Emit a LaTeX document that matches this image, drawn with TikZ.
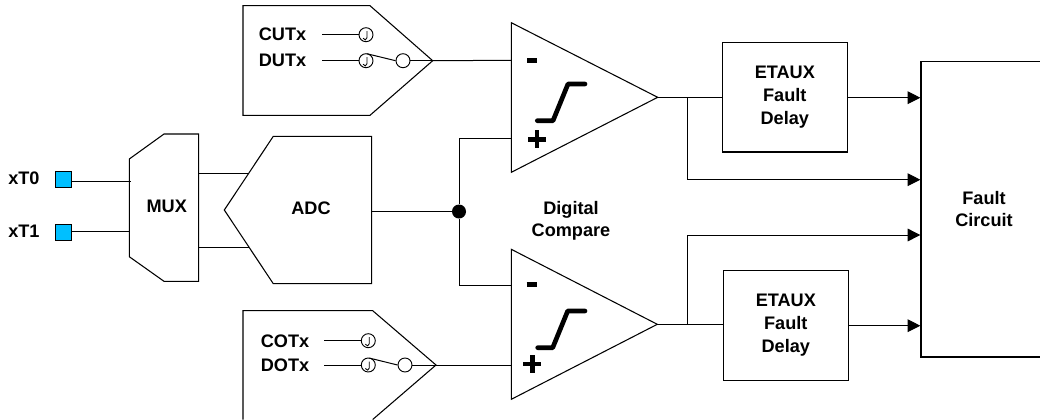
\documentclass[tikz,border=0pt]{standalone}
\usepackage{fontspec}
\setmainfont{Liberation Sans}
\usetikzlibrary{arrows.meta,calc}
\definecolor{padblue}{RGB}{0,191,255}
\tikzset{
  wire/.style={draw=black,line width=0.75pt},
  arrowwire/.style={wire,-{Triangle[length=9.5pt,width=9.5pt]},shorten >=0.5pt},
  block/.style={draw=black,line width=0.8pt,fill=white},
  blockbox/.style={draw=black,line width=0.8pt,fill=white,inner sep=0pt,minimum width=93.75pt,minimum height=82pt,align=center,font=\bfseries\fontsize{13.6}{17.25}\selectfont},
  lbl/.style={inner sep=0pt,align=center,font=\bfseries\fontsize{13.6}{16.5}\selectfont},
  pad/.style={draw=black,line width=0.7pt,fill=padblue,minimum size=12pt,inner sep=0pt},
  ring/.style={circle,draw=black,line width=0.7pt,fill=white,minimum size=10.5pt,inner sep=0pt},
  sym/.style={line width=3.5pt,black},
}
\begin{document}
\begin{tikzpicture}[x=0.75pt,y=-0.75pt]
\useasboundingbox (0,0) rectangle (1040,419);
\clip (0,0) rectangle (1040,419);
% top selector
\coordinate (tsa) at (243,5.7); \coordinate (tsb) at (370,5.7); \coordinate (tst) at (432.7,60.7);
\coordinate (tsc) at (370,115.3); \coordinate (tsd) at (243,115.3);
\draw[block] (tsa) -- (tsb) -- (tst) -- (tsc) -- (tsd) -- cycle;
% bottom selector
\coordinate (bsa) at (243,310.7); \coordinate (bsb) at (372.7,310.7); \coordinate (bst) at (436,365);
\coordinate (bsc) at (372.7,419.5); \coordinate (bsd) at (243,419.5);
\draw[block] (bsd) -- (bsa) -- (bsb) -- (bst) -- (bsc);
% comparators
\coordinate (c1a) at (511.3,22.7); \coordinate (c1o) at (657.7,97.3); \coordinate (c1b) at (511.3,172.3);
\coordinate (c1m) at (511.3,60.3); \coordinate (c1p) at (511.3,138.3);
\draw[block] (c1a) -- (c1o) -- (c1b) -- cycle;
\coordinate (c2a) at (511.3,249.3); \coordinate (c2o) at (657.3,324.3); \coordinate (c2b) at (511.3,399.3);
\coordinate (c2m) at (511.3,285); \coordinate (c2p) at (511.3,365);
\draw[block] (c2a) -- (c2o) -- (c2b) -- cycle;
% comparator symbols
\draw[sym,line width=3.6pt] (527,60.3) -- (537,60.3);
\draw[sym] (528,139.3) -- (546,139.3); \draw[sym] (537,130.3) -- (537,148.3);
\draw[sym,line cap=round,line join=round] (537.3,120.7) -- (553,120.7) -- (568,84) -- (585,84);
\draw[sym,line width=3.6pt] (526.7,284.3) -- (536.7,284.3);
\draw[sym] (523.3,364) -- (541.3,364); \draw[sym] (532.3,355) -- (532.3,373);
\draw[sym,line cap=round,line join=round] (537.7,347.7) -- (552.7,347.7) -- (567.7,311) -- (585,311);
% mux
\coordinate (ma) at (129.3,159); \coordinate (mb) at (164,134); \coordinate (mc) at (198.7,134);
\coordinate (md) at (198.7,281.3); \coordinate (me) at (164,281.3); \coordinate (mf) at (129.3,256.7);
\draw[block] (ma) -- (mb) -- (mc) -- (md) -- (me) -- (mf) -- cycle;
\node[lbl] (muxl) at (166.7,206.7) {MUX};
% adc
\coordinate (aa) at (273.3,136.3); \coordinate (ab) at (371.7,136.3); \coordinate (ac) at (371.7,283.7);
\coordinate (ad) at (273.3,283.7); \coordinate (ae) at (224.3,210);
\draw[block] (aa) -- (ab) -- (ac) -- (ad) -- (ae) -- cycle;
\node[lbl] (adcl) at (311,208) {ADC};
% mux to adc
\coordinate (mo1) at (198.7,173); \coordinate (ai1) at (249.3,173);
\coordinate (mo2) at (198.7,247); \coordinate (ai2) at (249.3,247);
\draw[wire] (mo1) -- (ai1); \draw[wire] (mo2) -- (ai2);
% pads
\node[pad] (p0) at (63,179) {}; \node[pad] (p1) at (63,232) {};
\node[lbl,anchor=west] (x0) at (8,178) {xT0};
\node[lbl,anchor=west] (x1) at (8,231) {xT1};
\coordinate (mi0) at (130.7,181); \coordinate (mi1) at (130,231.7);
\draw[wire] (p0.east |- mi0) -- (mi0); \draw[wire] (p1.east |- mi1) -- (mi1);
% adc output and dot
\node[circle,fill=black,minimum size=10.5pt,inner sep=0pt] (dot) at (459,211.5) {};
\coordinate (ao) at (371.7,211.5);
\draw[wire] (ao) -- (dot);
\coordinate (up) at (459,138.3); \coordinate (dn) at (459,285);
\draw[wire] (dot) -- (up) -- (c1p);
\draw[wire] (dot) -- (dn) -- (c2m);
% selector contents, top
\node[lbl] (cut) at (282.5,34.5) {CUTx};
\node[lbl] (dut) at (282.5,60) {DUTx};
\node[ring] (r1) at (366,34.7) {}; \node[ring] (r2) at (366,60.7) {}; \node[ring] (r3) at (403,60.7) {};
\coordinate (l1) at (322,34.7); \coordinate (l2) at (322,60.7);
\draw[wire] (l1) -- (r1.west); \draw[wire] (l2) -- (r2.west);
\draw[wire] (r3.east) -- (tst);
\draw[wire] (r2.north) ++(1,0.5) coordinate (sw1) -- (r3.west);
\draw[wire] (tst) -- (c1m);
% selector contents, bottom
\node[lbl] (cot) at (285,340.8) {COTx};
\node[lbl] (dot2) at (285,365) {DOTx};
\node[ring] (r4) at (368.3,340.7) {}; \node[ring] (r5) at (368.3,365) {}; \node[ring] (r6) at (405,365) {};
\coordinate (l4) at (324,340.7); \coordinate (l5) at (324,365);
\draw[wire] (l4) -- (r4.west); \draw[wire] (l5) -- (r5.west);
\draw[wire] (r6.east) -- (bst);
\draw[wire] (r5.north) ++(1,0.5) coordinate (sw2) -- (r6.west);
\draw[wire] (bst) -- (c2p);
% curls
\foreach \c in {r1,r2,r4,r5}{
  \draw[black,line width=0.65pt] ($(\c)+(1,-3.5)$) -- ($(\c)+(1,3)$) .. controls ($(\c)+(1,5.5)$) and ($(\c)+(-2,6)$) .. ($(\c)+(-3,3.5)$);
}
% delay boxes
\node[blockbox] (d1) at (784.8,97.3) {ETAUX\\Fault\\Delay};
\node[blockbox] (d2) at (785.8,325.6) {ETAUX\\Fault\\Delay};
% fault circuit (runs off the right edge)
\coordinate (fa) at (1041,61.7); \coordinate (fb) at (921,61.7); \coordinate (fc) at (921,357); \coordinate (fd) at (1041,357);
\draw[block] (fa) -- (fb) -- (fc) -- (fd);
\node[lbl] (fl) at (984,209) {Fault\\Circuit};
\node[lbl] (dc) at (571,220.5) {Digital\\Compare};
% outputs
\coordinate (f1) at (921,97.7); \coordinate (f2) at (921,179.7); \coordinate (f3) at (921,235); \coordinate (f4) at (921,325.7);
\coordinate (b1) at (687.7,97.3); \coordinate (b2) at (687.7,179.7); \coordinate (b3) at (687.7,324.3); \coordinate (b4) at (687.7,235);
\draw[wire] (c1o) -- (d1.west |- c1o);
\draw[wire] (c2o) -- (d2.west |- c2o);
\draw[arrowwire] (d1.east |- f1) -- (f1);
\draw[arrowwire] (d2.east |- f4) -- (f4);
\draw[arrowwire] (b1) -- (b2) -- (f2);
\draw[arrowwire] (b3) -- (b4) -- (f3);
\end{tikzpicture}
\end{document}
